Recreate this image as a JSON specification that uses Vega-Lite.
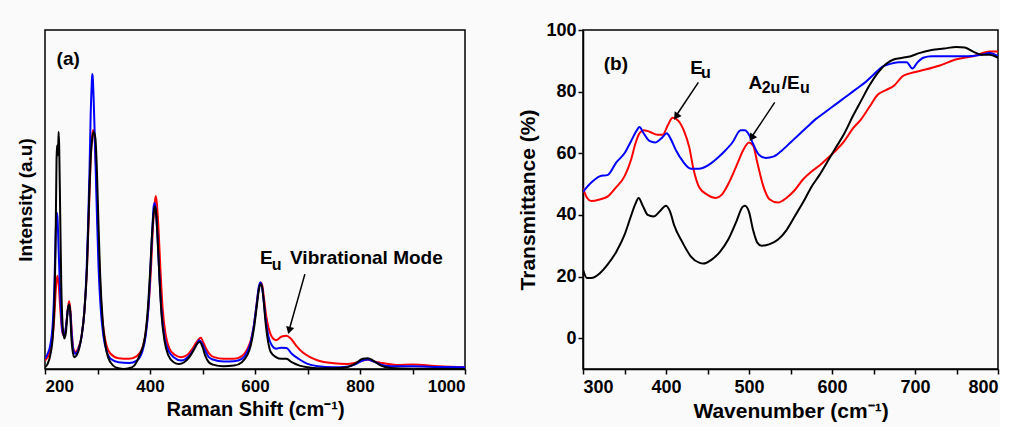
{
"$schema": "https://vega.github.io/schema/vega-lite/v6.json",
"background": "#fafafa",
"padding": {"left": 15, "top": 20, "right": 0, "bottom": 5},
"spacing": 50,
"config": {
  "view": {"stroke": "black", "strokeWidth": 1.5},
  "axis": {"domainColor": "black", "domainWidth": 1.5, "tickColor": "black", "tickWidth": 1.5, "tickSize": 5, "labelFont": "Liberation Sans", "labelFontWeight": "bold", "labelFontSize": 17, "labelColor": "black", "titleFont": "Liberation Sans", "titleFontWeight": "bold", "titleFontSize": 19, "titleColor": "black", "grid": false},
  "text": {"font": "Liberation Sans", "fontWeight": "bold", "color": "black"}
},
"datasets": {
"raman": [
{"s":"r","x":200,"y":2.5},{"s":"r","x":205,"y":3.5},{"s":"r","x":210,"y":5.5},{"s":"r","x":215,"y":10},{"s":"r","x":218,"y":16},{"s":"r","x":220,"y":22},{"s":"r","x":222,"y":26},{"s":"r","x":224,"y":27.5},{"s":"r","x":226,"y":25},{"s":"r","x":229,"y":18},{"s":"r","x":232,"y":12},{"s":"r","x":235,"y":10},{"s":"r","x":238,"y":10.5},{"s":"r","x":241,"y":14},{"s":"r","x":244,"y":18.5},{"s":"r","x":246,"y":20},{"s":"r","x":248,"y":18},{"s":"r","x":251,"y":11},{"s":"r","x":254,"y":6},{"s":"r","x":258,"y":5},{"s":"r","x":263,"y":6},{"s":"r","x":270,"y":10},{"s":"r","x":275,"y":17},{"s":"r","x":280,"y":30},{"s":"r","x":284,"y":48},{"s":"r","x":287,"y":62},{"s":"r","x":290,"y":69},{"s":"r","x":292,"y":70.5},{"s":"r","x":294,"y":69},{"s":"r","x":297,"y":60},{"s":"r","x":300,"y":46},{"s":"r","x":303,"y":32},{"s":"r","x":307,"y":19},{"s":"r","x":312,"y":11},{"s":"r","x":318,"y":6.5},{"s":"r","x":325,"y":4.5},{"s":"r","x":340,"y":3.2},{"s":"r","x":360,"y":3},{"s":"r","x":375,"y":3.8},{"s":"r","x":385,"y":6},{"s":"r","x":392,"y":11},{"s":"r","x":397,"y":18},{"s":"r","x":402,"y":30},{"s":"r","x":406,"y":43},{"s":"r","x":409,"y":49},{"s":"r","x":411,"y":51},{"s":"r","x":413,"y":49},{"s":"r","x":416,"y":42},{"s":"r","x":420,"y":29},{"s":"r","x":424,"y":18},{"s":"r","x":430,"y":10},{"s":"r","x":437,"y":6},{"s":"r","x":447,"y":4.2},{"s":"r","x":460,"y":3.5},{"s":"r","x":472,"y":4.3},{"s":"r","x":480,"y":5.8},{"s":"r","x":488,"y":7.8},{"s":"r","x":494,"y":9},{"s":"r","x":497,"y":9.2},{"s":"r","x":501,"y":8},{"s":"r","x":507,"y":6},{"s":"r","x":514,"y":4.3},{"s":"r","x":522,"y":3.5},{"s":"r","x":540,"y":3},{"s":"r","x":560,"y":3},{"s":"r","x":575,"y":3.8},{"s":"r","x":585,"y":5.8},{"s":"r","x":592,"y":8.5},{"s":"r","x":598,"y":13},{"s":"r","x":603,"y":19},{"s":"r","x":607,"y":23.5},{"s":"r","x":611,"y":25.5},{"s":"r","x":614,"y":24.5},{"s":"r","x":617,"y":21},{"s":"r","x":621,"y":16},{"s":"r","x":626,"y":12},{"s":"r","x":632,"y":9.5},{"s":"r","x":640,"y":8.5},{"s":"r","x":650,"y":9.5},{"s":"r","x":660,"y":9.8},{"s":"r","x":668,"y":9},{"s":"r","x":678,"y":7},{"s":"r","x":690,"y":5},{"s":"r","x":705,"y":3.5},{"s":"r","x":720,"y":2.5},{"s":"r","x":750,"y":1.7},{"s":"r","x":775,"y":1.5},{"s":"r","x":790,"y":1.8},{"s":"r","x":805,"y":2.5},{"s":"r","x":815,"y":2.8},{"s":"r","x":825,"y":2.3},{"s":"r","x":840,"y":1.8},{"s":"r","x":870,"y":1.2},{"s":"r","x":900,"y":1.3},{"s":"r","x":950,"y":0.8},{"s":"r","x":1000,"y":0.5},
{"s":"b","x":200,"y":3},{"s":"b","x":205,"y":4.5},{"s":"b","x":210,"y":7},{"s":"b","x":215,"y":14},{"s":"b","x":218,"y":25},{"s":"b","x":220,"y":38},{"s":"b","x":222,"y":45},{"s":"b","x":223,"y":46},{"s":"b","x":224,"y":44},{"s":"b","x":226,"y":35},{"s":"b","x":229,"y":22},{"s":"b","x":232,"y":13},{"s":"b","x":235,"y":10},{"s":"b","x":238,"y":10.5},{"s":"b","x":241,"y":14},{"s":"b","x":244,"y":18},{"s":"b","x":246,"y":19},{"s":"b","x":248,"y":17},{"s":"b","x":251,"y":10},{"s":"b","x":254,"y":5.5},{"s":"b","x":258,"y":4.5},{"s":"b","x":263,"y":5.5},{"s":"b","x":270,"y":10},{"s":"b","x":275,"y":17},{"s":"b","x":279,"y":28},{"s":"b","x":282,"y":42},{"s":"b","x":285,"y":60},{"s":"b","x":287,"y":75},{"s":"b","x":289,"y":84},{"s":"b","x":290,"y":87},{"s":"b","x":291,"y":86},{"s":"b","x":293,"y":78},{"s":"b","x":296,"y":62},{"s":"b","x":299,"y":45},{"s":"b","x":302,"y":30},{"s":"b","x":306,"y":18},{"s":"b","x":311,"y":10},{"s":"b","x":317,"y":5.5},{"s":"b","x":325,"y":3},{"s":"b","x":340,"y":2},{"s":"b","x":360,"y":1.8},{"s":"b","x":375,"y":2.5},{"s":"b","x":385,"y":5},{"s":"b","x":392,"y":10},{"s":"b","x":397,"y":18},{"s":"b","x":401,"y":30},{"s":"b","x":405,"y":43},{"s":"b","x":407,"y":48},{"s":"b","x":409,"y":49},{"s":"b","x":411,"y":47},{"s":"b","x":414,"y":40},{"s":"b","x":418,"y":27},{"s":"b","x":422,"y":17},{"s":"b","x":428,"y":9},{"s":"b","x":435,"y":5.5},{"s":"b","x":445,"y":3.5},{"s":"b","x":460,"y":2.5},{"s":"b","x":472,"y":3.5},{"s":"b","x":480,"y":5},{"s":"b","x":488,"y":7},{"s":"b","x":494,"y":8.5},{"s":"b","x":499,"y":7.5},{"s":"b","x":505,"y":5.5},{"s":"b","x":512,"y":3.5},{"s":"b","x":520,"y":2.8},{"s":"b","x":540,"y":2.2},{"s":"b","x":560,"y":2.3},{"s":"b","x":575,"y":3},{"s":"b","x":585,"y":5},{"s":"b","x":592,"y":8},{"s":"b","x":598,"y":13},{"s":"b","x":603,"y":19},{"s":"b","x":607,"y":24},{"s":"b","x":610,"y":25.5},{"s":"b","x":613,"y":24.5},{"s":"b","x":616,"y":21},{"s":"b","x":620,"y":15},{"s":"b","x":625,"y":10},{"s":"b","x":632,"y":7},{"s":"b","x":640,"y":6},{"s":"b","x":650,"y":6.3},{"s":"b","x":660,"y":6.2},{"s":"b","x":670,"y":4.5},{"s":"b","x":685,"y":2.8},{"s":"b","x":700,"y":1.5},{"s":"b","x":720,"y":0.8},{"s":"b","x":750,"y":0.5},{"s":"b","x":775,"y":0.7},{"s":"b","x":790,"y":1.3},{"s":"b","x":805,"y":2.5},{"s":"b","x":815,"y":2.8},{"s":"b","x":825,"y":2.3},{"s":"b","x":840,"y":1.3},{"s":"b","x":860,"y":0.8},{"s":"b","x":900,"y":0.8},{"s":"b","x":950,"y":0.6},{"s":"b","x":1000,"y":0.5},
{"s":"k","x":200,"y":0.5},{"s":"k","x":205,"y":1.5},{"s":"k","x":210,"y":4},{"s":"k","x":215,"y":10},{"s":"k","x":218,"y":20},{"s":"k","x":220,"y":35},{"s":"k","x":222,"y":62},{"s":"k","x":223,"y":66},{"s":"k","x":224,"y":63},{"s":"k","x":225,"y":65},{"s":"k","x":226,"y":70},{"s":"k","x":227,"y":66},{"s":"k","x":229,"y":45},{"s":"k","x":231,"y":25},{"s":"k","x":234,"y":12},{"s":"k","x":237,"y":9},{"s":"k","x":240,"y":11},{"s":"k","x":243,"y":17},{"s":"k","x":246,"y":19},{"s":"k","x":248,"y":17},{"s":"k","x":250,"y":10},{"s":"k","x":253,"y":5},{"s":"k","x":256,"y":3.5},{"s":"k","x":260,"y":4},{"s":"k","x":265,"y":6},{"s":"k","x":270,"y":10},{"s":"k","x":275,"y":17},{"s":"k","x":280,"y":30},{"s":"k","x":284,"y":50},{"s":"k","x":287,"y":62},{"s":"k","x":290,"y":68},{"s":"k","x":293,"y":70},{"s":"k","x":296,"y":68},{"s":"k","x":299,"y":58},{"s":"k","x":302,"y":42},{"s":"k","x":305,"y":28},{"s":"k","x":310,"y":14},{"s":"k","x":315,"y":7},{"s":"k","x":320,"y":3.5},{"s":"k","x":330,"y":1},{"s":"k","x":340,"y":0.2},{"s":"k","x":350,"y":0},{"s":"k","x":360,"y":0.2},{"s":"k","x":370,"y":1},{"s":"k","x":380,"y":4},{"s":"k","x":390,"y":9},{"s":"k","x":395,"y":16},{"s":"k","x":400,"y":28},{"s":"k","x":404,"y":40},{"s":"k","x":407,"y":46},{"s":"k","x":409,"y":48},{"s":"k","x":411,"y":47},{"s":"k","x":414,"y":40},{"s":"k","x":418,"y":27},{"s":"k","x":422,"y":16},{"s":"k","x":428,"y":8},{"s":"k","x":435,"y":4},{"s":"k","x":445,"y":2},{"s":"k","x":455,"y":1.5},{"s":"k","x":465,"y":2},{"s":"k","x":475,"y":3.5},{"s":"k","x":483,"y":5.5},{"s":"k","x":490,"y":7.5},{"s":"k","x":495,"y":8},{"s":"k","x":500,"y":6.5},{"s":"k","x":505,"y":4},{"s":"k","x":512,"y":2},{"s":"k","x":520,"y":1.3},{"s":"k","x":540,"y":0.8},{"s":"k","x":560,"y":1},{"s":"k","x":575,"y":2},{"s":"k","x":585,"y":4},{"s":"k","x":592,"y":7},{"s":"k","x":598,"y":12},{"s":"k","x":603,"y":18},{"s":"k","x":607,"y":23},{"s":"k","x":610,"y":25},{"s":"k","x":613,"y":24.5},{"s":"k","x":616,"y":21},{"s":"k","x":620,"y":14},{"s":"k","x":625,"y":8},{"s":"k","x":630,"y":5},{"s":"k","x":640,"y":3.5},{"s":"k","x":650,"y":3},{"s":"k","x":660,"y":3},{"s":"k","x":670,"y":2},{"s":"k","x":685,"y":1},{"s":"k","x":700,"y":0.5},{"s":"k","x":720,"y":0.2},{"s":"k","x":750,"y":0.2},{"s":"k","x":775,"y":0.5},{"s":"k","x":790,"y":1.5},{"s":"k","x":805,"y":3},{"s":"k","x":815,"y":3.2},{"s":"k","x":825,"y":2.5},{"s":"k","x":840,"y":1},{"s":"k","x":860,"y":0.3},{"s":"k","x":900,"y":0.1},{"s":"k","x":1000,"y":0}
],
"ftir": [
{"s":"r","x":300,"y":48.5},{"s":"r","x":305,"y":45.5},{"s":"r","x":310,"y":44.5},{"s":"r","x":320,"y":45},{"s":"r","x":330,"y":46},{"s":"r","x":340,"y":49},{"s":"r","x":350,"y":52.5},{"s":"r","x":358,"y":58},{"s":"r","x":363,"y":63},{"s":"r","x":368,"y":66.5},{"s":"r","x":373,"y":67.5},{"s":"r","x":380,"y":67},{"s":"r","x":390,"y":66},{"s":"r","x":396,"y":66},{"s":"r","x":402,"y":69},{"s":"r","x":408,"y":71.5},{"s":"r","x":415,"y":70.5},{"s":"r","x":422,"y":67},{"s":"r","x":428,"y":62},{"s":"r","x":433,"y":55},{"s":"r","x":440,"y":49},{"s":"r","x":450,"y":46.5},{"s":"r","x":460,"y":45.5},{"s":"r","x":467,"y":46.5},{"s":"r","x":475,"y":50},{"s":"r","x":485,"y":56},{"s":"r","x":493,"y":61},{"s":"r","x":500,"y":63.5},{"s":"r","x":505,"y":62.5},{"s":"r","x":510,"y":57},{"s":"r","x":517,"y":49.5},{"s":"r","x":525,"y":45},{"s":"r","x":535,"y":44},{"s":"r","x":545,"y":45.5},{"s":"r","x":555,"y":48},{"s":"r","x":565,"y":51.5},{"s":"r","x":575,"y":54},{"s":"r","x":585,"y":56},{"s":"r","x":595,"y":58.5},{"s":"r","x":605,"y":61},{"s":"r","x":615,"y":64},{"s":"r","x":625,"y":68},{"s":"r","x":635,"y":71},{"s":"r","x":645,"y":75},{"s":"r","x":655,"y":79},{"s":"r","x":665,"y":80.5},{"s":"r","x":675,"y":82},{"s":"r","x":685,"y":85},{"s":"r","x":695,"y":86},{"s":"r","x":710,"y":87},{"s":"r","x":730,"y":88.5},{"s":"r","x":750,"y":90.5},{"s":"r","x":770,"y":91.5},{"s":"r","x":790,"y":93},{"s":"r","x":800,"y":93},
{"s":"b","x":300,"y":47.5},{"s":"b","x":310,"y":50.5},{"s":"b","x":320,"y":52.5},{"s":"b","x":330,"y":53},{"s":"b","x":340,"y":57},{"s":"b","x":350,"y":60},{"s":"b","x":358,"y":64},{"s":"b","x":365,"y":67.5},{"s":"b","x":368,"y":68.5},{"s":"b","x":373,"y":66.5},{"s":"b","x":380,"y":64},{"s":"b","x":387,"y":63.5},{"s":"b","x":395,"y":65},{"s":"b","x":401,"y":66.5},{"s":"b","x":405,"y":65},{"s":"b","x":412,"y":61},{"s":"b","x":420,"y":57.5},{"s":"b","x":430,"y":55},{"s":"b","x":440,"y":55},{"s":"b","x":450,"y":56},{"s":"b","x":460,"y":58},{"s":"b","x":470,"y":60.5},{"s":"b","x":480,"y":63.5},{"s":"b","x":490,"y":67.5},{"s":"b","x":495,"y":67.5},{"s":"b","x":500,"y":66},{"s":"b","x":505,"y":63},{"s":"b","x":512,"y":59.5},{"s":"b","x":520,"y":58.5},{"s":"b","x":530,"y":59},{"s":"b","x":540,"y":61},{"s":"b","x":550,"y":63.5},{"s":"b","x":560,"y":66},{"s":"b","x":570,"y":68.5},{"s":"b","x":580,"y":71},{"s":"b","x":590,"y":73},{"s":"b","x":600,"y":75},{"s":"b","x":610,"y":77},{"s":"b","x":620,"y":79},{"s":"b","x":630,"y":81},{"s":"b","x":640,"y":83},{"s":"b","x":650,"y":85.5},{"s":"b","x":660,"y":88},{"s":"b","x":670,"y":89},{"s":"b","x":680,"y":89.5},{"s":"b","x":690,"y":89.5},{"s":"b","x":697,"y":87.5},{"s":"b","x":703,"y":89.5},{"s":"b","x":710,"y":91},{"s":"b","x":720,"y":91.5},{"s":"b","x":740,"y":91.5},{"s":"b","x":760,"y":91.5},{"s":"b","x":780,"y":92},{"s":"b","x":790,"y":92.5},{"s":"b","x":800,"y":91.5},
{"s":"k","x":300,"y":22.2},{"s":"k","x":305,"y":19.5},{"s":"k","x":310,"y":19.5},{"s":"k","x":320,"y":21},{"s":"k","x":330,"y":24},{"s":"k","x":340,"y":28},{"s":"k","x":350,"y":33.5},{"s":"k","x":357,"y":39},{"s":"k","x":363,"y":43.5},{"s":"k","x":367,"y":45.5},{"s":"k","x":372,"y":43},{"s":"k","x":378,"y":40},{"s":"k","x":385,"y":39.5},{"s":"k","x":392,"y":41},{"s":"k","x":400,"y":43},{"s":"k","x":405,"y":41},{"s":"k","x":410,"y":36.5},{"s":"k","x":420,"y":31},{"s":"k","x":430,"y":26.5},{"s":"k","x":440,"y":24.5},{"s":"k","x":445,"y":24.2},{"s":"k","x":455,"y":25.5},{"s":"k","x":465,"y":28},{"s":"k","x":475,"y":32},{"s":"k","x":485,"y":38},{"s":"k","x":492,"y":42.5},{"s":"k","x":495,"y":43},{"s":"k","x":500,"y":41},{"s":"k","x":505,"y":35},{"s":"k","x":510,"y":31},{"s":"k","x":515,"y":30},{"s":"k","x":525,"y":30.5},{"s":"k","x":535,"y":32},{"s":"k","x":545,"y":35},{"s":"k","x":555,"y":39.5},{"s":"k","x":565,"y":44},{"s":"k","x":575,"y":49},{"s":"k","x":585,"y":53},{"s":"k","x":595,"y":57.5},{"s":"k","x":605,"y":62},{"s":"k","x":615,"y":66.5},{"s":"k","x":625,"y":72},{"s":"k","x":635,"y":77},{"s":"k","x":645,"y":82},{"s":"k","x":655,"y":86},{"s":"k","x":665,"y":89},{"s":"k","x":675,"y":90.5},{"s":"k","x":685,"y":91},{"s":"k","x":695,"y":91.5},{"s":"k","x":705,"y":92.5},{"s":"k","x":720,"y":93.5},{"s":"k","x":735,"y":94},{"s":"k","x":750,"y":94.5},{"s":"k","x":760,"y":94.3},{"s":"k","x":770,"y":93},{"s":"k","x":780,"y":92},{"s":"k","x":790,"y":92},{"s":"k","x":800,"y":91}
]
},
"hconcat": [
{
  "width": 420, "height": 339,
  "layer": [
    {"data": {"name": "raman"},
     "mark": {"type": "line", "strokeWidth": 2, "interpolate": "monotone", "clip": true},
     "encoding": {
       "x": {"field": "x", "type": "quantitative", "scale": {"domain": [200, 1000], "nice": false},
             "axis": {"values": [200,300,400,500,600,700,800,900,1000], "format": "d", "labelExpr": "datum.value % 200 === 0 ? datum.label : ''", "title": "Raman Shift (cm⁻¹)", "titleFontSize": 20, "labelPadding": 4, "titlePadding": 5}},
       "y": {"field": "y", "type": "quantitative", "scale": {"domain": [0, 100], "nice": false},
             "axis": {"labels": false, "ticks": false, "domain": false, "title": "Intensity (a.u)", "titlePadding": 10}},
       "color": {"field": "s", "type": "nominal", "scale": {"domain": ["r", "b", "k"], "range": ["#ff0000", "#0000ff", "#000000"]}, "legend": null}
     }},
    {"data": {"values": [{"x": 222, "y": 89.7, "t": "(a)"}, {"x": 609.5, "y": 31.0, "t": "E"}, {"x": 666.7, "y": 31.0, "t": "Vibrational Mode"}]},
     "mark": {"type": "text", "fontSize": 19, "align": "left", "baseline": "alphabetic"},
     "encoding": {"x": {"field": "x", "type": "quantitative"}, "y": {"field": "y", "type": "quantitative"}, "text": {"field": "t"}}},
    {"data": {"values": [{"x": 631.7, "y": 29.3, "t": "u"}]},
     "mark": {"type": "text", "fontSize": 16, "align": "left", "baseline": "alphabetic"},
     "encoding": {"x": {"field": "x", "type": "quantitative"}, "y": {"field": "y", "type": "quantitative"}, "text": {"field": "t"}}},
    {"data": {"values": [{"x1": 695, "y1": 28, "x2": 666, "y2": 12}]},
     "mark": {"type": "rule", "strokeWidth": 1.5, "color": "black"},
     "encoding": {"x": {"field": "x1", "type": "quantitative"}, "y": {"field": "y1", "type": "quantitative"}, "x2": {"field": "x2"}, "y2": {"field": "y2"}}},
    {"data": {"values": [{"x": 665.8, "y": 11.7}]},
     "mark": {"type": "point", "shape": "triangle", "filled": true, "color": "black", "size": 70, "angle": 195, "opacity": 1},
     "encoding": {"x": {"field": "x", "type": "quantitative"}, "y": {"field": "y", "type": "quantitative"}}}
  ]
},
{
  "width": 415, "height": 339,
  "layer": [
    {"data": {"name": "ftir"},
     "mark": {"type": "line", "strokeWidth": 2, "interpolate": "monotone", "clip": true},
     "encoding": {
       "x": {"field": "x", "type": "quantitative", "scale": {"domain": [300, 800], "nice": false},
             "axis": {"values": [300,350,400,450,500,550,600,650,700,750,800], "format": "d", "labelFontSize": 18, "labelExpr": "datum.value % 100 === 0 ? datum.label : ''", "title": "Wavenumber (cm⁻¹)", "titleFontSize": 21, "labelPadding": 4, "titlePadding": 4}},
       "y": {"field": "y", "type": "quantitative", "scale": {"domain": [-10, 100], "nice": false},
             "axis": {"values": [0,10,20,30,40,50,60,70,80,90,100], "format": "d", "labelFontSize": 18, "labelExpr": "datum.value % 20 === 0 ? datum.label : ''", "title": "Transmittance (%)", "titleFontSize": 21, "titlePadding": 7}},
       "color": {"field": "s", "type": "nominal", "scale": {"domain": ["r", "b", "k"], "range": ["#ff0000", "#0000ff", "#000000"]}, "legend": null}
     }},
    {"data": {"values": [{"x": 325, "y": 87.1, "t": "(b)"}, {"x": 429.1, "y": 85.7, "t": "E"}, {"x": 499.3, "y": 81.0, "t": "A"}, {"x": 539.4, "y": 81.0, "t": "/E"}]},
     "mark": {"type": "text", "fontSize": 19, "align": "left", "baseline": "alphabetic"},
     "encoding": {"x": {"field": "x", "type": "quantitative"}, "y": {"field": "y", "type": "quantitative"}, "text": {"field": "t"}}},
    {"data": {"values": [{"x": 442.3, "y": 84.4, "t": "u"}, {"x": 515.3, "y": 79.4, "t": "2u"}, {"x": 561.4, "y": 79.4, "t": "u"}]},
     "mark": {"type": "text", "fontSize": 16, "align": "left", "baseline": "alphabetic"},
     "encoding": {"x": {"field": "x", "type": "quantitative"}, "y": {"field": "y", "type": "quantitative"}, "text": {"field": "t"}}},
    {"data": {"values": [{"x1": 439, "y1": 83, "x2": 413, "y2": 72.5}, {"x1": 531, "y1": 76.5, "x2": 504, "y2": 65.6}]},
     "mark": {"type": "rule", "strokeWidth": 1.5, "color": "black"},
     "encoding": {"x": {"field": "x1", "type": "quantitative"}, "y": {"field": "y1", "type": "quantitative"}, "x2": {"field": "x2"}, "y2": {"field": "y2"}}},
    {"data": {"values": [{"x": 413, "y": 72.2}, {"x": 504, "y": 65.3}]},
     "mark": {"type": "point", "shape": "triangle", "filled": true, "color": "black", "size": 70, "angle": 214, "opacity": 1},
     "encoding": {"x": {"field": "x", "type": "quantitative"}, "y": {"field": "y", "type": "quantitative"}}}
  ]
}
]
}
